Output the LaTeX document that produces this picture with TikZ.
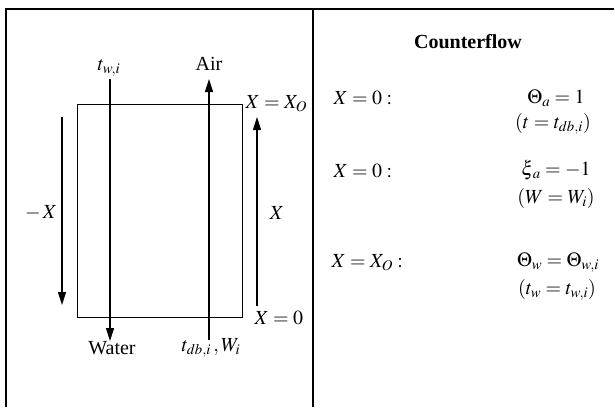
\documentclass[tikz,border=0pt]{standalone}
\usepackage{mathptmx}
\usepackage{fontspec}
\setmainfont{Liberation Serif}
\usetikzlibrary{arrows.meta}
\begin{document}
\begin{tikzpicture}[x=1pt,y=-1pt,
  font=\fontsize{20}{23}\selectfont,
  line width=1.1pt,
  arr/.style={-{Triangle[length=13pt,width=8pt]}},
  lbl/.style={inner sep=0pt}]
\useasboundingbox (0,0) rectangle (615,407);
% frame
\coordinate (fbl) at (6,407);
\coordinate (ftl) at (6,9);
\coordinate (ftr) at (614,9);
\coordinate (dt) at (313,9);
\coordinate (db) at (313,407);
\draw[line width=1.3pt] (fbl) -- (ftl) -- (ftr);
\draw[line width=1.3pt] (dt) -- (db);
% exchanger box
\node[draw, minimum width=165pt, minimum height=213pt, inner sep=0pt, line width=1pt] (box) at (159.5,210.5) {};
% arrows
\coordinate (w1) at (110,79);
\coordinate (w2) at (110,341);
\coordinate (a1) at (209,340);
\coordinate (a2) at (209,79);
\coordinate (r1) at (257,306);
\coordinate (r2) at (257,117);
\coordinate (l1) at (62,117);
\coordinate (l2) at (62,305);
\draw[arr] (w1) -- (w2);
\draw[arr] (a1) -- (a2);
\draw[arr] (r1) -- (r2);
\draw[arr] (l1) -- (l2);
% left labels
\node[lbl] (twi) at (109,68) {$t_{w,i}$};
\node[lbl] (air) at (209,64) {Air};
\node[lbl, anchor=west] (xxo) at (245,104) {$X=X_O$};
\node[lbl] (xr) at (277,213) {$X$};
\node[lbl] (xl) at (41,213) {$-\,X$};
\node[lbl, anchor=west] (x0) at (254,318) {$X=0$};
\node[lbl] (water) at (112,348) {Water};
\node[lbl] (tdb) at (211,348) {$t_{db,i}\,,W_i$};
% right panel
\node[lbl] (title) at (468,42) {\bfseries Counterflow};
\node[lbl, anchor=west] (c1) at (333,98) {$X=0:$};
\node[lbl] (e1) at (556,98) {$\Theta_a=1$};
\node[lbl] (e1b) at (553,124) {$(t=t_{db,i})$};
\node[lbl, anchor=west] (c2) at (333,171) {$X=0:$};
\node[lbl] (e2) at (556,170) {$\xi_{\,a}=-1$};
\node[lbl] (e2b) at (556,198) {$(W=W_i)$};
\node[lbl, anchor=west] (c3) at (331,263) {$X=X_O:$};
\node[lbl] (e3) at (558,263) {$\Theta_w=\Theta_{w,i}$};
\node[lbl] (e3b) at (557,290) {$(t_w=t_{w,i})$};
\end{tikzpicture}
\end{document}
